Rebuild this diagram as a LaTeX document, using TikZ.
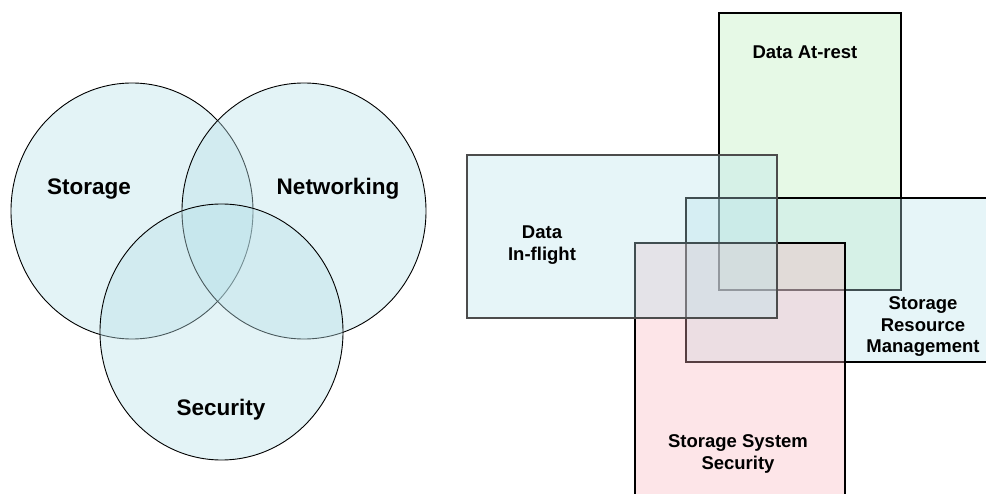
\documentclass[tikz,border=0pt]{standalone}
\usepackage{fontspec}
\setmainfont{Liberation Sans}
\begin{document}
\begin{tikzpicture}[x=1pt,y=-1pt,
  ringfill/.style={fill=ringblue,fill opacity=0.4,draw=black,line width=0.9pt},
  boxfill/.style={fill opacity=0.35,draw=black,line width=1.1pt},
  biglabel/.style={font=\fontsize{22.5}{26}\selectfont\bfseries,text opacity=1},
  boxlabel/.style={font=\fontsize{18.5}{21.5}\selectfont\bfseries,align=center,text opacity=1}]
\definecolor{ringblue}{HTML}{B8E0E8}
\definecolor{restgreen}{HTML}{B8EEB8}
\definecolor{flightblue}{HTML}{B8E2EA}
\definecolor{securepink}{HTML}{F8B4BC}
\useasboundingbox (0,0) rectangle (986,494);
\clip (0,0) rectangle (986,494);

% Venn diagram of the three areas
\draw[ringfill] (132,211) ellipse [x radius=121, y radius=128];
\draw[ringfill] (304,211) ellipse [x radius=122, y radius=128];
\draw[ringfill] (221.5,332) ellipse [x radius=121.5, y radius=128];
\node[biglabel] (storage) at (89,189) {Storage};
\node[biglabel] (networking) at (338,189) {Networking};
\node[biglabel] (security) at (221,410) {Security};

% Overlapping areas of storage security
\draw[boxfill,fill=restgreen] (719,13) rectangle (901,290);
\draw[boxfill,fill=flightblue] (686,198) rectangle (1000,362);
\draw[boxfill,fill=securepink] (635,243) rectangle (845,520);
\draw[boxfill,fill=flightblue,draw=black!70] (467,155) rectangle (777,318);

\node[boxlabel] (atrest) at (805,52) {Data At-rest};
\node[boxlabel] (inflight) at (542,245) {Data\\In-flight};
\node[boxlabel] (srm) at (923,327) {Storage\\Resource\\Management};
\node[boxlabel] (syssec) at (738,454) {Storage System\\Security};
\end{tikzpicture}
\end{document}
